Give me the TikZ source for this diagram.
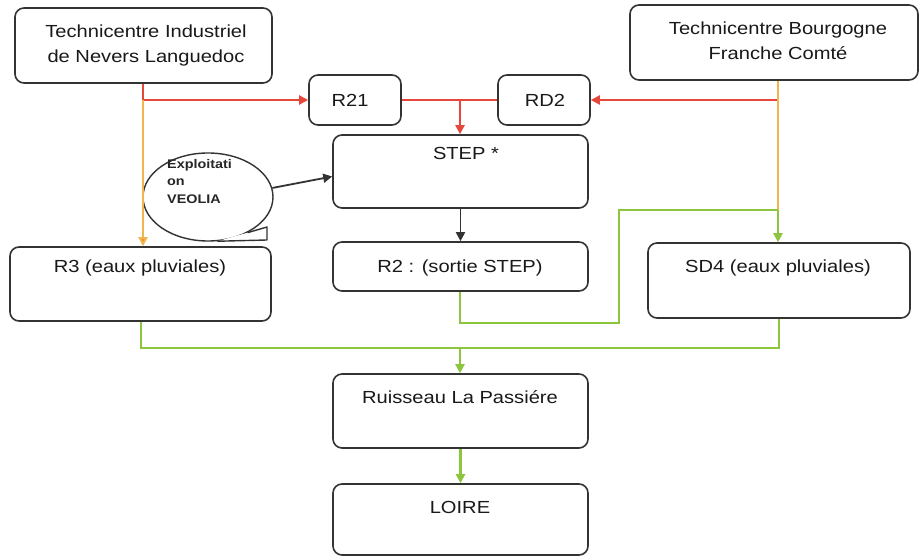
\documentclass[tikz,border=0pt]{standalone}
\usepackage{fontspec}
\setmainfont{Liberation Sans}[FakeStretch=1.15]
\usetikzlibrary{arrows.meta,shapes.geometric,calc}
\definecolor{cred}{HTML}{E5473B}
\definecolor{corange}{HTML}{F0B54C}
\definecolor{corangetip}{HTML}{F08A2A}
\definecolor{cgreen}{HTML}{8CC63F}
\definecolor{cborder}{HTML}{333333}
\begin{document}
\begin{tikzpicture}[x=1pt,y=-1pt,
  box/.style={draw=cborder, line width=1.6pt, rounded corners=9pt, fill=white, inner sep=0pt},
  lbl/.style={font=\fontsize{17.5}{25}\selectfont, text=black!90, align=center, inner sep=0pt},
  tip/.style={-{Triangle[length=9pt,width=9pt]}},
  redline/.style={draw=cred, line width=2pt},
  orline/.style={draw=corange, line width=2pt},
  grline/.style={draw=cgreen, line width=2.2pt},
  blkline/.style={draw=black!80, line width=1.8pt}
]
\useasboundingbox (0,0) rectangle (919,556);
\fill[white] (0,0) rectangle (919,556);

% boxes
\node[box, minimum width=257pt, minimum height=75pt] (tinl) at (143.5,45.5) {};
\node[box, minimum width=288pt, minimum height=75pt] (tbfc) at (774,42.5) {};
\node[box, minimum width=92pt, minimum height=50pt] (r21) at (355,100) {};
\node[box, minimum width=92pt, minimum height=50pt] (rd2) at (544,100) {};
\node[box, minimum width=255pt, minimum height=73pt] (step) at (460.5,171.5) {};
\node[box, minimum width=255pt, minimum height=49pt] (r2) at (460.5,266.5) {};
\node[box, minimum width=261pt, minimum height=74pt] (r3) at (140.5,284) {};
\node[box, minimum width=262pt, minimum height=75pt] (sd4) at (779,280.5) {};
\node[box, minimum width=255pt, minimum height=74pt] (ruis) at (460.5,411) {};
\node[box, minimum width=255pt, minimum height=71pt] (loire) at (460.5,519.5) {};

% texts
\node[lbl] (tinlt) at (146,45) {Technicentre Industriel\\de Nevers Languedoc};
\node[lbl] (tbfct) at (778,41) {Technicentre Bourgogne\\Franche Comté};
\node[lbl] (r21t) at (350,100) {R21};
\node[lbl] (rd2t) at (545,100) {RD2};
\node[lbl] (stept) at (466,153) {STEP *};
\node[lbl] (r2t) at (460,268) {R2 : (sortie STEP)};
\node[lbl] (r3t) at (140,268) {R3 (eaux pluviales)};
\node[lbl] (sd4t) at (778,268) {SD4 (eaux pluviales)};
\node[lbl] (ruist) at (460,397) {Ruisseau La Passiére};
\node[lbl] (loiret) at (460,507) {LOIRE};

% callout
\node[ellipse, draw=cborder, line width=1.4pt, fill=white, minimum width=130pt, minimum height=88pt, inner sep=0pt] (veo) at (208,197) {};
\coordinate (vt1) at (267,227);
\coordinate (vt2) at (267,240);
\fill[white] (veo.-42) -- (vt1) -- (vt2) -- (veo.-78) -- cycle;
\draw[draw=cborder, line width=1.4pt, line join=round] (veo.-42) -- (vt1) -- (vt2) -- (veo.-78);
\node[font=\bfseries\fontsize{12.5}{17.5}\selectfont, align=left, anchor=north west, inner sep=0pt, text=black!85] (veot) at (167,159) {Exploitati\\on\\VEOLIA};

% coordinates
\coordinate (ja) at (143,100);
\coordinate (jb) at (460,100);
\coordinate (jc) at (778,100);
\coordinate (jd) at (778,210);
\coordinate (g1) at (619,210);
\coordinate (g2) at (619,323);
\coordinate (g3) at (460,323);
\coordinate (b1) at (141,348);
\coordinate (b2) at (779,348);
\coordinate (bm) at (460,348);

% red connectors
\draw[redline] (tinl.south -| ja) -- (ja);
\draw[redline, tip] (ja) -- (r21.west);
\draw[redline] (r21.east) -- (rd2.west);
\draw[redline, tip] (jb) -- (step.north -| jb);
\draw[redline, tip] (jc) -- (rd2.east);

% orange connectors
\draw[orline, -{Triangle[length=9pt,width=9pt,fill=corangetip]}] (ja) -- (ja |- r3.north);
\draw[orline] (tbfc.south -| jc) -- (jd);
\draw[grline, tip] (jd) -- (sd4.north -| jd);

% green connectors
\draw[grline, line join=miter] (jd) -- (g1) -- (g2) -- (g3) -- (r2.south -| g3);
\draw[grline, line join=miter] (r3.south -| b1) -- (b1) -- (b2) -- (sd4.south -| b2);
\draw[grline, tip] (bm) -- (ruis.north -| bm);
\draw[grline, tip] (ruis.south) -- (loire.north);

% black connectors
\draw[blkline, tip] (step.south) -- (r2.north);
\draw[blkline, tip] (veo.8) -- ([yshift=-5pt]step.west);
\end{tikzpicture}
\end{document}
